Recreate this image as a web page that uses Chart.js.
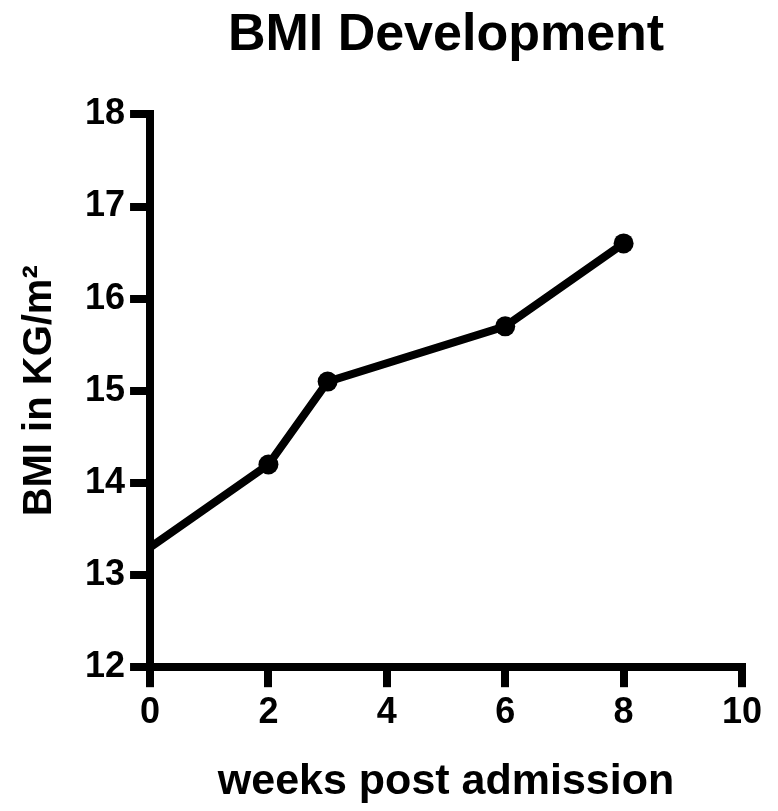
<!DOCTYPE html>
<html lang="en">

<head>
    <meta charset="UTF-8">
    <title>BMI Development</title>
    <script src="https://cdn.jsdelivr.net/npm/chart.js"></script>
    <style>
        body {
            margin: 0;
            padding: 0;
            background-color: #fff;
        }

        #chartContainer {
            width: 778px;
            height: 811px;
        }
    </style>
</head>

<body>
    <div id="chartContainer">
        <canvas id="chart"></canvas>
    </div>

    <script>
        // weeks post admission and BMI values
        const weeks = [0, 2, 3, 6, 8];
        const bmi = [13.3, 14.2, 15.1, 15.7, 16.6];

        const xTicks = [0, 2, 4, 6, 8, 10];
        const yTicks = [12, 13, 14, 15, 16, 17, 18];

        const font = '"Liberation Sans", Arial, sans-serif';

        const points = weeks.map(function (w, i) {
            return { x: w, y: bmi[i] };
        });

        const ctx = document.getElementById('chart').getContext('2d');

        const chart = new Chart(ctx, {
            type: 'line',
            data: {
                datasets: [{
                    label: 'BMI',
                    data: points,
                    borderColor: '#000',
                    backgroundColor: '#000',
                    borderWidth: 8,
                    // the week 0 point sits under the axis, no marker shown
                    pointRadius: function (c) { return c.parsed && c.parsed.x === 0 ? 0 : 10; },
                    pointBorderWidth: 0,
                    fill: false,
                    tension: 0
                }]
            },
            options: {
                responsive: true,
                maintainAspectRatio: false,
                animation: false,
                layout: {
                    padding: { left: 6, right: 36, top: 0, bottom: 3 }
                },
                plugins: {
                    legend: { display: false },
                    tooltip: { enabled: false },
                    title: {
                        display: true,
                        fullSize: false, // centre over the plot area, not the canvas
                        text: 'BMI Development',
                        color: '#000',
                        font: { family: font, size: 52, weight: 'bold' },
                        padding: { top: 4, bottom: 48 }
                    }
                },
                scales: {
                    x: {
                        type: 'linear',
                        min: 0,
                        max: 10,
                        afterBuildTicks: function (axis) {
                            axis.ticks = xTicks.map(function (v) { return { value: v }; });
                        },
                        grid: {
                            drawOnChartArea: false,
                            color: '#000',
                            lineWidth: 8,
                            tickLength: 20
                        },
                        border: { color: '#000', width: 8 },
                        ticks: {
                            color: '#000',
                            font: { family: font, size: 36, weight: 'bold' },
                            padding: 4,
                            maxRotation: 0
                        },
                        title: {
                            display: true,
                            text: 'weeks post admission',
                            color: '#000',
                            font: { family: font, size: 43, weight: 'bold' },
                            padding: { top: 18, bottom: 0 }
                        }
                    },
                    y: {
                        type: 'linear',
                        min: 12,
                        max: 18,
                        afterBuildTicks: function (axis) {
                            axis.ticks = yTicks.map(function (v) { return { value: v }; });
                        },
                        grid: {
                            drawOnChartArea: false,
                            color: '#000',
                            lineWidth: 8,
                            tickLength: 20
                        },
                        border: { color: '#000', width: 8 },
                        ticks: {
                            color: '#000',
                            font: { family: font, size: 36, weight: 'bold' },
                            padding: 5
                        },
                        title: {
                            display: true,
                            text: 'BMI in KG/m²',
                            color: '#000',
                            font: { family: font, size: 40, weight: 'bold' },
                            padding: { top: 10, bottom: 16 }
                        }
                    }
                }
            }
        });
    </script>
</body>

</html>
